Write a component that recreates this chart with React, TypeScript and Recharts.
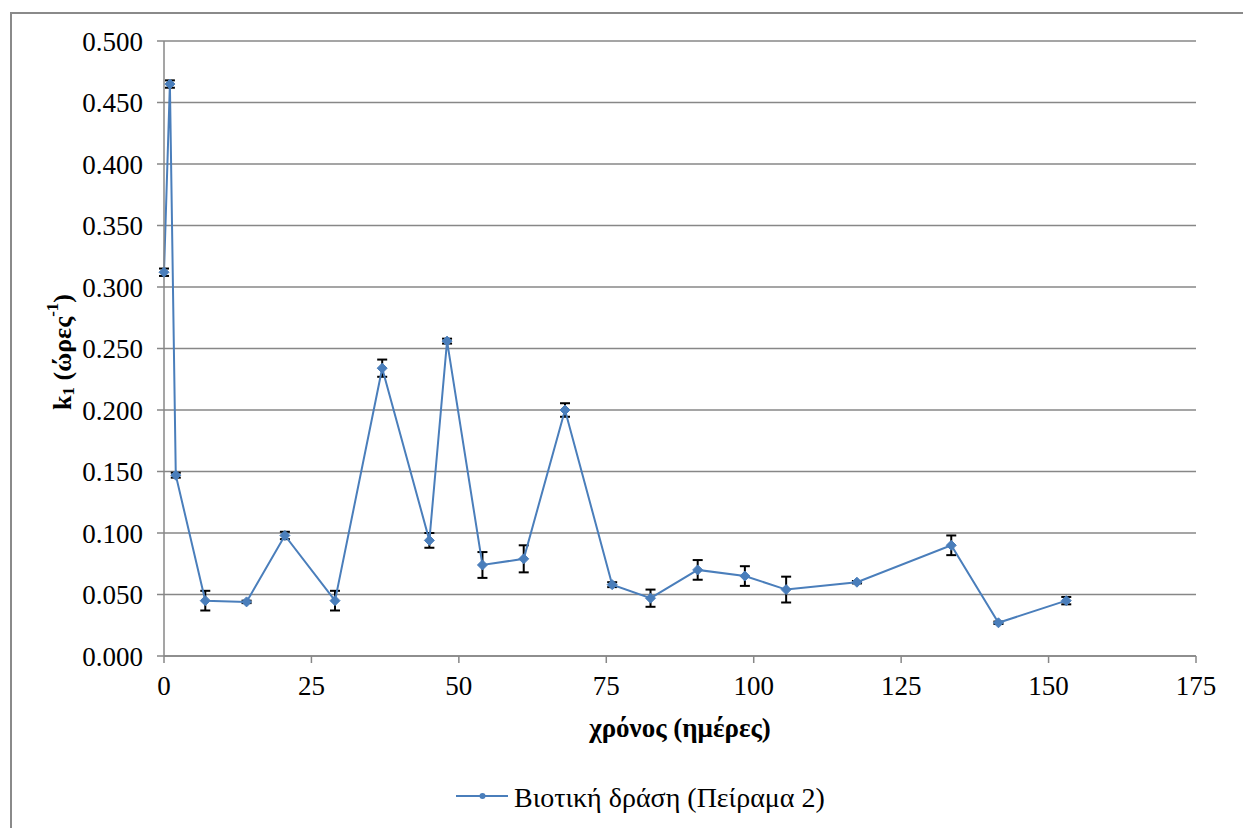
import { LineChart, Line, XAxis, YAxis, CartesianGrid, ErrorBar, Label } from 'recharts';

const days = [0, 1, 2, 7, 14, 20.5, 29, 37, 45, 48, 54, 61, 68, 76, 82.5, 90.5, 98.5, 105.5, 117.5, 133.5, 141.5, 153];
const k1 = [0.312, 0.465, 0.147, 0.045, 0.044, 0.098, 0.045, 0.234, 0.094, 0.256, 0.074, 0.079, 0.200, 0.058, 0.047, 0.070, 0.065, 0.054, 0.060, 0.090, 0.027, 0.045];
const k1Err = [0.003, 0.003, 0.002, 0.008, 0.001, 0.003, 0.008, 0.007, 0.006, 0.002, 0.0105, 0.011, 0.0055, 0.002, 0.007, 0.008, 0.008, 0.0105, 0.001, 0.008, 0.001, 0.003];

const xTicks = [0, 25, 50, 75, 100, 125, 150, 175];
const yTicks = [0, 0.05, 0.1, 0.15, 0.2, 0.25, 0.3, 0.35, 0.4, 0.45, 0.5];

const seriesName = 'Βιοτική δράση (Πείραμα 2)';

const chartData = days.map((d, i) => ({ day: d, k1: k1[i], err: k1Err[i] }));

const FONT = '"Liberation Serif"';
const LINE_COLOR = '#4a7ebb';
const GRID = '#878787';

const Diamond = (props: any) => {
  const { cx, cy } = props;
  if (cx == null || cy == null) return null;
  const r = 5;
  return (
    <polygon
      points={`${cx},${cy - r} ${cx + r},${cy} ${cx},${cy + r} ${cx - r},${cy}`}
      fill={LINE_COLOR}
      stroke={LINE_COLOR}
      strokeWidth={1}
    />
  );
};

const YTitle = () => (
  <text
    x={62}
    y={352}
    transform="rotate(-90, 62, 352)"
    textAnchor="middle"
    dominantBaseline="central"
    style={{ fontFamily: FONT }}
    fontWeight="bold"
    fontSize={26}
    fill="#000"
  >
    k<tspan fontSize={17} dy={6}>1</tspan>
    <tspan dy={-6}> (ώρες</tspan>
    <tspan fontSize={17} dy={-10}>-1</tspan>
    <tspan dy={10}>)</tspan>
  </text>
);

export default function App() {
  return (
    <div style={{ position: 'absolute', left: 0, top: 0, width: 1243, height: 828, background: '#fff', fontFamily: FONT }}>
      <div
        style={{
          position: 'absolute',
          left: 10,
          top: 12,
          right: 0,
          bottom: 0,
          borderTop: '2px solid #8a8a8a',
          borderLeft: '2px solid #8a8a8a',
        }}
      />
      <div style={{ position: 'absolute', left: 0, top: 0 }}>
        <LineChart
          width={1243}
          height={828}
          data={chartData}
          margin={{ top: 41, right: 47, left: 84, bottom: 142 }}
          style={{ fontFamily: FONT }}
        >
          <CartesianGrid horizontal vertical={false} stroke={GRID} strokeWidth={1.5} />
          <XAxis
            dataKey="day"
            type="number"
            domain={[0, 175]}
            ticks={xTicks}
            interval={0}
            height={30}
            tickSize={7}
            tickMargin={13}
            axisLine={{ stroke: GRID, strokeWidth: 1.5 }}
            tickLine={{ stroke: GRID, strokeWidth: 1.5 }}
            tick={{ style: { fontFamily: FONT }, fontSize: 27, fill: '#000' }}
          >
            <Label
              content={() => (
                <text x={680} y={737} textAnchor="middle" style={{ fontFamily: FONT }} fontWeight="bold" fontSize={27} fill="#000">
                  χρόνος (ημέρες)
                </text>
              )}
            />
          </XAxis>
          <YAxis
            type="number"
            domain={[0, 0.5]}
            ticks={yTicks}
            interval={0}
            width={80}
            tickSize={7}
            tickMargin={14}
            tickFormatter={(v: number) => v.toFixed(3)}
            axisLine={{ stroke: GRID, strokeWidth: 1.5 }}
            tickLine={{ stroke: GRID, strokeWidth: 1.5 }}
            tick={{ style: { fontFamily: FONT }, fontSize: 27, fill: '#000' }}
          >
            <Label content={() => <YTitle />} />
          </YAxis>
          <Line
            type="linear"
            dataKey="k1"
            name={seriesName}
            stroke={LINE_COLOR}
            strokeWidth={2}
            dot={<Diamond />}
            activeDot={false}
            isAnimationActive={false}
          >
            <ErrorBar dataKey="err" direction="y" width={5} stroke="#000" strokeWidth={2} />
          </Line>
        </LineChart>
      </div>
      <svg width={1243} height={60} style={{ position: 'absolute', left: 0, top: 770 }}>
        <line x1={456} y1={26} x2={508} y2={26} stroke={LINE_COLOR} strokeWidth={2} />
        <circle cx={482.5} cy={26} r={3} fill={LINE_COLOR} />
        <text x={514} y={36.5} style={{ fontFamily: FONT }} fontSize={28} fill="#000">
          {seriesName}
        </text>
      </svg>
    </div>
  );
}
